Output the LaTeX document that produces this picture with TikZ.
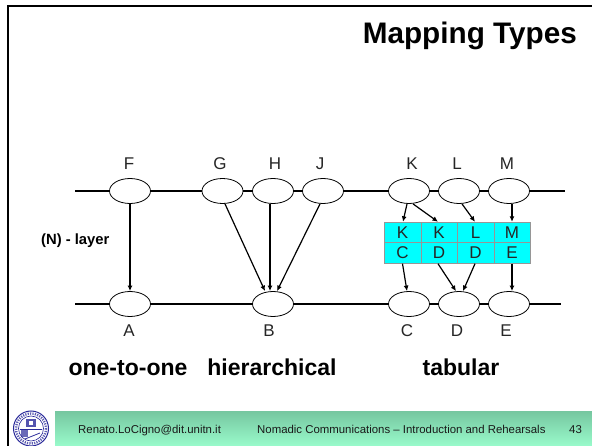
\documentclass[tikz,border=0pt]{standalone}
\usepackage{fontspec}
\setmainfont{Liberation Sans}
\usetikzlibrary{arrows.meta,shapes.geometric}
\definecolor{cyanfill}{HTML}{00FFFF}
\definecolor{cellline}{HTML}{969696}
\definecolor{footA}{HTML}{76C6A0}
\definecolor{footB}{HTML}{99FBCB}
\definecolor{crest}{HTML}{2A2A9A}
\tikzset{
 x=1pt,y=-1pt,
 pdu/.style={draw=black,fill=white,ellipse,minimum width=41pt,minimum height=25pt,inner sep=0pt,line width=.8pt},
 layer/.style={draw=black,line width=1.1pt},
 map/.style={draw=black,line width=1.2pt,-{Latex[length=5.5pt,width=5pt]}},
 lab/.style={font=\fontsize{17}{18}\selectfont,inner sep=0pt,anchor=base,text=black!85},
 cell/.style={draw=cellline,fill=cyanfill,line width=.9pt,minimum height=20.5pt,inner sep=0pt,font=\fontsize{17}{18}\selectfont,text=black!85},
 head/.style={font=\bfseries\fontsize{23}{25}\selectfont,inner sep=0pt,anchor=base},
 foot/.style={font=\fontsize{11.4}{12}\selectfont,inner sep=0pt,anchor=base west,text=black!90},
}
\begin{document}
\begin{tikzpicture}
\useasboundingbox (0,0) rectangle (592,446);
\fill[white] (0,0) rectangle (592,446);
% frame
\draw[black,line width=2.6pt] (8,446) -- (8,6) -- (592,6);
% footer
\shade[top color=footA,bottom color=footB] (55,411) rectangle (592,446);
\node[foot] (ft1) at (78,433) {Renato.LoCigno@dit.unitn.it};
\node[foot] (ft2) at (257,433) {Nomadic Communications – Introduction and Rehearsals};
\node[foot] (ft3) at (569,433) {43};
% crest
\begin{scope}[crest]
\draw[line width=1pt] (31,428.5) circle (17.5);
\draw[line width=.6pt] (31,428.5) circle (12.5);
\draw[line width=2.4pt,dash pattern=on 1.2pt off 1.2pt,opacity=.75] (31,428.5) circle (15);
\fill[opacity=.8] (26,419) rectangle (36,427);
\fill[opacity=.7] (21,430) rectangle (28,437);
\draw[line width=.8pt] (20,429.5) -- (42,429.5) (25,439)--(40,433);
\fill[white] (29,421) rectangle (33,425);
\end{scope}
% title
\node[font=\bfseries\fontsize{29.7}{32}\selectfont,anchor=east,inner sep=0pt] (title) at (577,36) {Mapping Types};
% layers
\coordinate (tl) at (75,191); \coordinate (tr) at (565,191);
\coordinate (bl) at (75,304); \coordinate (br) at (561,304);
\draw[layer] (tl) -- (tr);
\draw[layer] (bl) -- (br);
% entities
\foreach \n/\x in {F/130,G/222.5,H/273,J/323,K/409,L/459,M/509}{
  \node[pdu] (n\n) at (\x,191) {};
}
\foreach \n/\x in {A/130,B/273,C/409,D/459,E/509}{
  \node[pdu] (n\n) at (\x,304) {};
}
% entity labels
\foreach \n/\x in {F/129,G/220,H/275,J/320,K/412,L/457,M/507}{
  \node[lab] (l\n) at (\x,170) {\n};
}
\foreach \n/\x in {A/129,B/269,C/407,D/457,E/506}{
  \node[lab] (l\n) at (\x,337) {\n};
}
% table
\node[cell,minimum width=37pt] (t1) at (402.5,232.5) {K};
\node[cell,minimum width=36pt] (t2) at (439,232.5) {K};
\node[cell,minimum width=37pt] (t3) at (475.5,232.5) {L};
\node[cell,minimum width=36pt] (t4) at (512,232.5) {M};
\node[cell,minimum width=37pt] (b1) at (402.5,253) {C};
\node[cell,minimum width=36pt] (b2) at (439,253) {D};
\node[cell,minimum width=37pt] (b3) at (475.5,253) {D};
\node[cell,minimum width=36pt] (b4) at (512,253) {E};
% connectors
\draw[map] (nF) -- (nA);
\draw[map] ([xshift=2.5pt]nG.south) -- ([xshift=-8pt]nB.north);
\draw[map] ([xshift=-3pt]nH.south) -- ([xshift=-3pt]nB.north);
\draw[map] ([xshift=-3pt]nJ.south) -- ([xshift=4pt]nB.north);
\draw[map] ([xshift=-2pt]nK.south) -- ([xshift=.5pt]t1.north);
\draw[map] ([xshift=4pt]nK.south) -- ([xshift=-1pt]t2.north);
\draw[map] ([xshift=3pt]nL.south) -- ([xshift=-.5pt]t3.north);
\draw[map] (t4.north |- nM.south) -- (t4.north);
\draw[map] (b1.south) -- ([xshift=-2pt]nC.north);
\draw[map] ([xshift=-1pt]b2.south) -- ([xshift=-3pt]nD.north);
\draw[map] ([xshift=-.5pt]b3.south) -- ([xshift=4pt]nD.north);
\draw[map] (b4.south) -- (b4.south |- nE.north);
% captions
\node[font=\bfseries\fontsize{14.8}{16}\selectfont,inner sep=0pt,anchor=west] (nl) at (41,241) {(N) - layer};
\node[head] (c1) at (128,376) {one-to-one};
\node[head] (c2) at (272,376) {hierarchical};
\node[head] (c3) at (461,376) {tabular};
\end{tikzpicture}
\end{document}
